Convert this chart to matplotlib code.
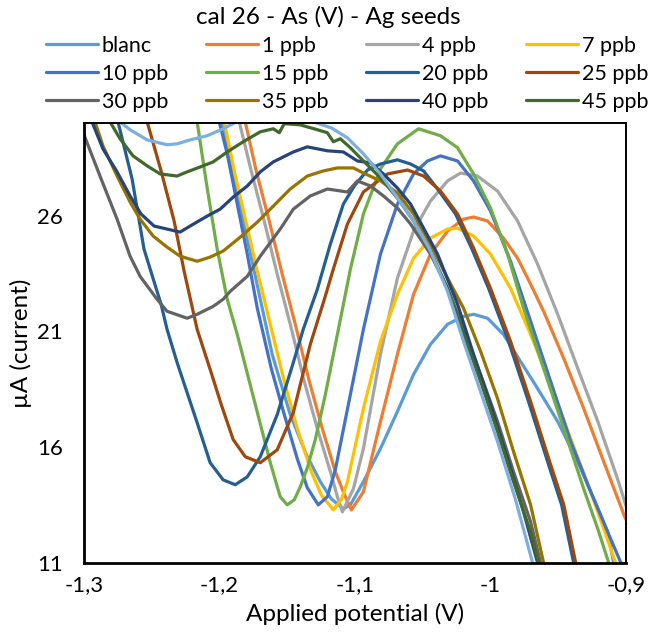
import matplotlib
matplotlib.use("Agg")
import matplotlib.pyplot as plt
from matplotlib.ticker import FixedLocator, FixedFormatter

# ---- data: applied potential (V) and current (µA) per standard ----
blanc_x = [-1.2046, -1.1980, -1.1795, -1.1611, -1.1478, -1.1359, -1.1256, -1.1175, -1.1086, -1.1034,
           -1.0938, -1.0812, -1.0687, -1.0568, -1.0443, -1.0317, -1.0199, -1.0125, -1.0022, -0.9904,
           -0.9778, -0.9652, -0.9504, -0.9356, -0.9238, -0.9135, -0.9091, -0.9054]
blanc_y = [31.91, 30.05, 24.99, 20.01, 17.41, 15.68, 14.51, 13.77, 13.34, 13.51,
           14.51, 15.94, 17.54, 19.14, 20.44, 21.31, 21.65, 21.74, 21.57, 20.87,
           19.70, 18.53, 17.11, 15.37, 13.77, 12.34, 11.00, 9.83]

ppb1_x = [-1.1891, -1.1810, -1.1729, -1.1633, -1.1537, -1.1433, -1.1337, -1.1241, -1.1145, -1.1086,
          -1.1027, -1.0938, -1.0812, -1.0687, -1.0568, -1.0443, -1.0317, -1.0199, -1.0125, -1.0022,
          -0.9904, -0.9800, -0.9704, -0.9608, -0.9459, -0.9312, -0.9164, -0.9015, -0.8817]
ppb1_y = [31.91, 30.05, 27.93, 25.77, 23.47, 21.13, 18.84, 16.80, 14.94, 14.07,
          13.29, 14.07, 17.11, 20.01, 22.60, 24.34, 25.33, 25.85, 25.94, 25.77,
          25.03, 24.16, 23.04, 21.87, 19.83, 17.67, 15.37, 13.08, 10.48]

ppb4_x = [-1.1936, -1.1854, -1.1766, -1.1670, -1.1574, -1.1470, -1.1374, -1.1278, -1.1175, -1.1130,
          -1.1093, -1.1012, -1.0938, -1.0812, -1.0687, -1.0568, -1.0443, -1.0317, -1.0221, -1.0096,
          -0.9948, -0.9800, -0.9652, -0.9504, -0.9356, -0.9208, -0.9060, -0.8986, -0.8817]
ppb4_y = [31.91, 30.05, 27.93, 25.77, 23.47, 21.13, 18.84, 16.80, 14.81, 13.86,
          13.21, 14.20, 15.94, 20.01, 23.30, 25.33, 26.63, 27.50, 27.84, 27.71,
          27.06, 25.77, 23.90, 21.74, 19.40, 17.11, 14.59, 13.21, 10.48]

ppb7_x = [-1.2032, -1.1965, -1.1891, -1.1818, -1.1721, -1.1618, -1.1522, -1.1426, -1.1322, -1.1249,
          -1.1160, -1.1101, -1.1056, -1.0938, -1.0812, -1.0687, -1.0568, -1.0443, -1.0317, -1.0243,
          -1.0125, -1.0000, -0.9852, -0.9704, -0.9556, -0.9408, -0.9260, -0.9164, -0.9076, -0.9037]
ppb7_y = [31.91, 30.05, 27.93, 26.07, 23.60, 21.13, 18.84, 16.80, 14.94, 13.94,
          13.29, 13.73, 14.51, 17.67, 20.57, 22.60, 24.16, 25.03, 25.42, 25.46,
          25.12, 24.34, 22.86, 20.87, 18.71, 16.37, 14.07, 12.47, 11.00, 10.26]

ppb10_x = [-1.2069, -1.2002, -1.1943, -1.1869, -1.1795, -1.1721, -1.1618, -1.1522, -1.1426, -1.1352,
           -1.1271, -1.1204, -1.1145, -1.1086, -1.1012, -1.0938, -1.0812, -1.0687, -1.0568, -1.0465,
           -1.0369, -1.0243, -1.0125, -1.0000, -0.9852, -0.9704, -0.9556, -0.9408, -0.9260, -0.9135,
           -0.9037, -0.9002]
ppb10_y = [31.91, 30.05, 28.67, 26.50, 24.34, 22.00, 19.40, 17.41, 15.50, 14.25,
           13.51, 13.86, 15.03, 16.76, 18.92, 21.09, 24.34, 26.50, 27.80, 28.36,
           28.58, 28.36, 27.50, 26.20, 24.03, 21.44, 18.84, 16.24, 14.07, 12.34,
           11.00, 10.26]

ppb15_x = [-1.2217, -1.2165, -1.2091, -1.2017, -1.1943, -1.1869, -1.1751, -1.1625, -1.1552, -1.1500,
           -1.1448, -1.1404, -1.1352, -1.1293, -1.1219, -1.1130, -1.1034, -1.0938, -1.0812, -1.0687,
           -1.0531, -1.0369, -1.0243, -1.0125, -1.0000, -0.9874, -0.9756, -0.9608, -0.9459, -0.9312,
           -0.9208, -0.9127, -0.9098]
ppb15_y = [31.91, 30.05, 27.19, 24.55, 22.39, 20.87, 18.19, 15.33, 13.86, 13.51,
           13.73, 14.29, 15.11, 16.33, 18.27, 20.87, 23.69, 26.07, 28.02, 29.10,
           29.75, 29.45, 28.93, 27.80, 26.33, 24.34, 22.00, 19.40, 16.80, 14.20,
           12.47, 11.00, 10.48]

ppb20_x = [-1.2808, -1.2749, -1.2645, -1.2557, -1.2431, -1.2387, -1.2313, -1.2254, -1.2165, -1.2069,
           -1.1973, -1.1884, -1.1795, -1.1699, -1.1574, -1.1455, -1.1382, -1.1278, -1.1182, -1.1086,
           -1.1005, -1.0908, -1.0812, -1.0687, -1.0590, -1.0494, -1.0391, -1.0258, -1.0140, -1.0014,
           -0.9867, -0.9719, -0.9571, -0.9475, -0.9386, -0.9364]
ppb20_y = [31.91, 30.05, 27.58, 24.55, 22.17, 21.09, 19.66, 18.62, 17.06, 15.33,
           14.59, 14.38, 14.72, 15.59, 17.41, 19.66, 21.09, 22.82, 24.77, 26.50,
           27.28, 27.97, 28.23, 28.41, 28.23, 27.93, 27.15, 26.07, 24.60, 22.86,
           20.57, 17.97, 15.24, 13.51, 11.00, 10.26]

ppb25_x = [-1.2586, -1.2534, -1.2431, -1.2335, -1.2261, -1.2165, -1.2069, -1.1987, -1.1899, -1.1810,
           -1.1699, -1.1574, -1.1455, -1.1330, -1.1226, -1.1160, -1.1056, -1.0938, -1.0760, -1.0612,
           -1.0494, -1.0369, -1.0243, -1.0125, -1.0000, -0.9852, -0.9704, -0.9556, -0.9459, -0.9371,
           -0.9349]
ppb25_y = [31.91, 30.05, 27.93, 25.77, 23.60, 21.09, 19.36, 17.84, 16.33, 15.59,
           15.33, 15.89, 17.50, 20.44, 22.39, 23.69, 25.64, 27.02, 27.80, 27.97,
           27.71, 27.06, 26.07, 24.60, 22.86, 20.57, 17.97, 15.24, 13.51, 11.00,
           10.26]

ppb30_x = [-1.3030, -1.3000, -1.2882, -1.2756, -1.2660, -1.2586, -1.2461, -1.2387, -1.2239, -1.2165,
           -1.2047, -1.1973, -1.1921, -1.1795, -1.1699, -1.1552, -1.1455, -1.1330, -1.1204, -1.1056,
           -1.0982, -1.0886, -1.0790, -1.0687, -1.0590, -1.0443, -1.0317, -1.0199, -1.0073, -0.9948,
           -0.9830, -0.9704, -0.9630, -0.9601]
ppb30_y = [29.97, 29.49, 27.71, 25.85, 24.25, 23.38, 22.39, 21.87, 21.57, 21.74,
           22.08, 22.39, 22.73, 23.38, 24.25, 25.42, 26.28, 26.85, 27.15, 27.02,
           27.50, 27.28, 26.85, 26.33, 25.64, 24.34, 22.86, 21.13, 19.14, 17.11,
           14.94, 12.78, 11.00, 10.26]

ppb35_x = [-1.2956, -1.2919, -1.2860, -1.2756, -1.2660, -1.2586, -1.2490, -1.2387, -1.2291, -1.2165,
           -1.2069, -1.1973, -1.1847, -1.1721, -1.1603, -1.1478, -1.1352, -1.1234, -1.1130, -1.1012,
           -1.0938, -1.0812, -1.0687, -1.0568, -1.0443, -1.0317, -1.0199, -1.0073, -0.9948, -0.9830,
           -0.9704, -0.9608, -0.9578]
ppb35_y = [30.83, 30.05, 29.01, 27.71, 26.59, 25.85, 25.12, 24.64, 24.25, 24.03,
           24.21, 24.47, 25.07, 25.72, 26.41, 27.15, 27.71, 27.93, 28.06, 28.06,
           27.84, 27.50, 26.98, 26.07, 24.77, 23.30, 22.00, 20.14, 18.10, 15.81,
           13.51, 11.00, 10.26]

ppb40_x = [-1.2970, -1.2941, -1.2860, -1.2756, -1.2660, -1.2579, -1.2483, -1.2387, -1.2291, -1.2194,
           -1.2091, -1.1995, -1.1899, -1.1795, -1.1699, -1.1603, -1.1455, -1.1352, -1.1204, -1.1086,
           -1.0982, -1.0886, -1.0790, -1.0687, -1.0590, -1.0494, -1.0391, -1.0243, -1.0125, -1.0000,
           -0.9874, -0.9756, -0.9652, -0.9623]
ppb40_y = [30.83, 30.05, 28.88, 27.89, 26.85, 26.07, 25.55, 25.42, 25.29, 25.63,
           25.98, 26.28, 26.80, 27.28, 27.89, 28.32, 28.75, 28.97, 28.80, 28.75,
           28.36, 28.28, 27.80, 27.19, 26.50, 25.46, 24.34, 22.17, 20.01, 17.84,
           15.50, 13.21, 11.00, 10.26]

ppb45_x = [-1.2845, -1.2808, -1.2734, -1.2638, -1.2534, -1.2438, -1.2313, -1.2239, -1.2143, -1.2047,
           -1.1943, -1.1825, -1.1699, -1.1603, -1.1559, -1.1522, -1.1404, -1.1278, -1.1204, -1.1160,
           -1.1108, -1.1034, -1.0938, -1.0812, -1.0687, -1.0568, -1.0443, -1.0317, -1.0199, -1.0073,
           -0.9948, -0.9830, -0.9704, -0.9645, -0.9616]
ppb45_y = [30.83, 30.05, 29.32, 28.58, 28.15, 27.80, 27.71, 27.89, 28.10, 28.32,
           28.75, 29.19, 29.62, 29.75, 29.58, 29.97, 29.92, 29.71, 29.58, 29.19,
           29.32, 28.93, 28.36, 27.63, 26.76, 25.77, 24.47, 22.86, 20.87, 18.84,
           16.67, 14.51, 12.34, 11.00, 10.26]

# additional scan plotted without a legend entry
extra_x = [-1.2771, -1.2734, -1.2660, -1.2534, -1.2387, -1.2313, -1.2217, -1.2091, -1.1973, -1.1862,
           -1.1699, -1.1478, -1.1308, -1.1175, -1.1056, -1.0938, -1.0812, -1.0687, -1.0568, -1.0443,
           -1.0317, -1.0199, -1.0073, -0.9948, -0.9815, -0.9689, -0.9660]
extra_y = [30.61, 30.05, 29.71, 29.27, 29.06, 29.10, 29.27, 29.45, 29.75, 30.09,
           30.61, 30.70, 30.05, 29.79, 29.36, 28.67, 27.80, 26.76, 25.77, 24.47,
           22.73, 20.57, 18.40, 16.24, 13.73, 11.00, 10.26]

labels = ["blanc", "1 ppb", "4 ppb", "7 ppb", "10 ppb", "15 ppb",
          "20 ppb", "25 ppb", "30 ppb", "35 ppb", "40 ppb", "45 ppb"]
colors = ["#5B9BD5", "#ED7D31", "#A5A5A5", "#FFC000", "#4472C4", "#70AD47",
          "#255E91", "#9E480E", "#636363", "#997300", "#264478", "#43682B"]
series = [(blanc_x, blanc_y), (ppb1_x, ppb1_y), (ppb4_x, ppb4_y), (ppb7_x, ppb7_y),
          (ppb10_x, ppb10_y), (ppb15_x, ppb15_y), (ppb20_x, ppb20_y), (ppb25_x, ppb25_y),
          (ppb30_x, ppb30_y), (ppb35_x, ppb35_y), (ppb40_x, ppb40_y), (ppb45_x, ppb45_y)]
extra_color = "#7CAFDD"

x_ticks = [-1.3, -1.2, -1.1, -1.0, -0.9]
x_tick_labels = ["-1,3", "-1,2", "-1,1", "-1", "-0,9"]
y_ticks = [11, 16, 21, 26]
y_tick_labels = ["11", "16", "21", "26"]

plt.rcParams["font.family"] = ["Lato", "DejaVu Sans"]

fig = plt.figure(figsize=(6.57, 6.32), dpi=100)
ax = fig.add_axes([84 / 657, 1 - 563 / 632, (626 - 84) / 657, (563 - 123) / 632])

handles = []
for (xs, ys), lab, col in zip(series, labels, colors):
    line, = ax.plot(xs, ys, color=col, lw=2.3, label=lab, solid_joinstyle="round",
                    solid_capstyle="round")
    handles.append(line)
ax.plot(extra_x, extra_y, color=extra_color, lw=2.3, label="_nolegend_",
        solid_joinstyle="round", solid_capstyle="round")

ax.set_xlim(-1.3, -0.9)
ax.set_ylim(11, 30)
ax.xaxis.set_major_locator(FixedLocator(x_ticks))
ax.xaxis.set_major_formatter(FixedFormatter(x_tick_labels))
ax.yaxis.set_major_locator(FixedLocator(y_ticks))
ax.yaxis.set_major_formatter(FixedFormatter(y_tick_labels))
ax.tick_params(axis="both", length=0, labelsize=16, colors="black")
ax.tick_params(axis="x", pad=9)
ax.tick_params(axis="y", pad=15)

for side in ["left", "bottom"]:
    ax.spines[side].set_linewidth(2.0)
for side in ["top", "right"]:
    ax.spines[side].set_linewidth(1.4)
for sp in ax.spines.values():
    sp.set_color("black")

ax.set_xlabel("Applied potential (V)", fontsize=17.5, labelpad=5)
ax.set_ylabel("µA (current)", fontsize=17.5, labelpad=4)

fig.text(0.5, 1 - 17 / 632, "cal 26 - As (V) - Ag seeds", ha="center", va="center",
         fontsize=17.5, color="black")

# legend entries are filled row by row across four columns
ncol = 4
nrow = 3
order = [r * ncol + c for c in range(ncol) for r in range(nrow)]
fig.legend([handles[i] for i in order], [labels[i] for i in order],
           loc="upper left", bbox_to_anchor=(46 / 657, 1 - 36 / 632), ncol=ncol,
           frameon=False, fontsize=15.5, handlelength=2.4, handletextpad=0.2,
           columnspacing=1.75, labelspacing=0.36, borderpad=0, borderaxespad=0)

fig.savefig("out.png", dpi=100)
